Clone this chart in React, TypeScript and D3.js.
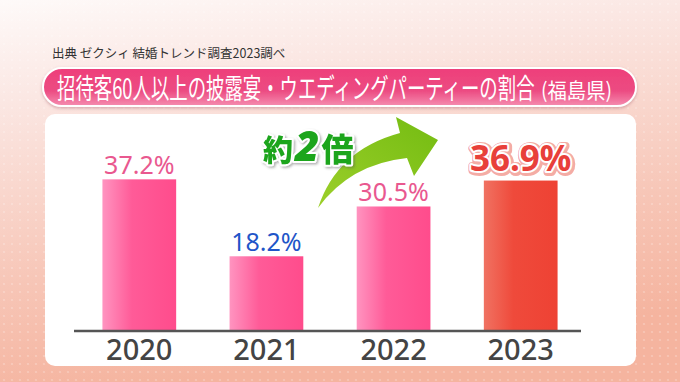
import React, { useLayoutEffect, useRef, useState } from "react";
import * as d3 from "d3";

const years = ["2020", "2021", "2022", "2023"];
const values = [37.2, 18.2, 30.5, 36.9];
const labels = ["37.2%", "18.2%", "30.5%", "36.9%"];
const labelKinds = ["pink", "blue", "pink", "highlight"];
const titleMain = "招待客60人以上の披露宴・ウエディングパーティーの割合";
const titleSub = "(福島県)";
const sourceText = "出典 ゼクシィ 結婚トレンド調査2023調べ";
const calloutPre = "約";
const calloutNum = "2";
const calloutPost = "倍";

const W = 680;
const H = 382;
const JP = "'Noto Sans CJK JP', 'Noto Sans', sans-serif";
const NUM = "'Noto Sans', Roboto, sans-serif";

export default function App() {
  const mainRef = useRef<SVGTextElement>(null);
  const subRef = useRef<SVGTextElement>(null);
  const [sxMain, setSxMain] = useState(0.66);
  const [sxSub, setSxSub] = useState(0.9);

  useLayoutEffect(() => {
    if (mainRef.current) {
      const w = mainRef.current.getBBox().width;
      if (w > 0) setSxMain(478 / w);
    }
    if (subRef.current) {
      const w = subRef.current.getBBox().width;
      if (w > 0) setSxSub(71 / w);
    }
  }, []);

  const x = d3.scaleBand<string>().domain(years).range([77, 583]).paddingInner(0.42).paddingOuter(0.2);
  const y = d3.scaleLinear().domain([0, 40]).range([330, 168]);
  const bw = x.bandwidth();

  const arrow = d3.path();
  arrow.moveTo(318, 208);
  arrow.quadraticCurveTo(337, 150, 400, 133);
  arrow.lineTo(396, 117);
  arrow.lineTo(438, 140);
  arrow.lineTo(414, 176);
  arrow.lineTo(407, 158);
  arrow.quadraticCurveTo(350, 164, 318, 208);
  arrow.closePath();

  return (
    <svg width={W} height={H} style={{ position: "fixed", left: 0, top: 0 }}>
      <defs>
        <linearGradient id="bg" x1="0" y1="0" x2="0.25" y2="1">
          <stop offset="0" stopColor="#fefaf9" />
          <stop offset="0.25" stopColor="#fbe7e3" />
          <stop offset="0.7" stopColor="#f7c6b7" />
          <stop offset="1" stopColor="#f5b49f" />
        </linearGradient>
        <pattern id="dots" width="8" height="8" patternUnits="userSpaceOnUse">
          <circle cx="4" cy="4" r="1.1" fill="#ffffff" opacity="0.25" />
        </pattern>
        <linearGradient id="pill" x1="0" y1="0" x2="0" y2="1">
          <stop offset="0" stopColor="#ee3f7a" />
          <stop offset="0.6" stopColor="#ec4b82" />
          <stop offset="1" stopColor="#f58db0" />
        </linearGradient>
        <linearGradient id="barPink" x1="0" y1="0" x2="1" y2="0">
          <stop offset="0" stopColor="#ff94c0" />
          <stop offset="0.4" stopColor="#ff5b98" />
          <stop offset="1" stopColor="#ff4c8c" />
        </linearGradient>
        <linearGradient id="barRed" x1="0" y1="0" x2="1" y2="0">
          <stop offset="0" stopColor="#f07262" />
          <stop offset="0.4" stopColor="#ef4a3b" />
          <stop offset="1" stopColor="#ee4234" />
        </linearGradient>
        <linearGradient id="arrowG" x1="0" y1="1" x2="1" y2="0">
          <stop offset="0" stopColor="#9ccf2a" />
          <stop offset="1" stopColor="#74bc12" />
        </linearGradient>
        <filter id="shadow" x="-10%" y="-30%" width="120%" height="160%">
          <feDropShadow dx="0" dy="1.5" stdDeviation="1.5" floodColor="#a05060" floodOpacity="0.4" />
        </filter>
        <filter id="tshadow" x="-10%" y="-30%" width="130%" height="160%">
          <feDropShadow dx="1.5" dy="1.5" stdDeviation="1" floodColor="#555" floodOpacity="0.45" />
        </filter>
      </defs>

      <rect x={0} y={0} width={W} height={H} fill="url(#bg)" />
      <rect x={0} y={0} width={W} height={H} fill="url(#dots)" />

      <text x={52} y={58} fontFamily={JP} fontSize={12.5} fill="#333">{sourceText}</text>

      <rect x={43} y={68} width={593} height={38} rx={19} fill="url(#pill)" stroke="#ffffff" strokeWidth={2} filter="url(#shadow)" />
      <g transform={`translate(57,99) scale(${sxMain},1)`}>
        <text ref={mainRef} x={0} y={0} fontFamily={JP} fontSize={28} fill="#ffffff">{titleMain}</text>
      </g>
      <g transform={`translate(541,98) scale(${sxSub},1)`}>
        <text ref={subRef} x={0} y={0} fontFamily={JP} fontSize={21} fill="#ffffff">{titleSub}</text>
      </g>

      <rect x={45} y={114} width={591} height={252} rx={10} fill="#ffffff" />

      {years.map((yr, i) => (
        <rect key={yr} x={x(yr)} y={y(values[i])} width={bw} height={y(0) - y(values[i])}
          fill={labelKinds[i] === "highlight" ? "url(#barRed)" : "url(#barPink)"} />
      ))}

      <line x1={74} x2={581} y1={y(0) + 1} y2={y(0) + 1} stroke="#555" strokeWidth={2.5} />

      {years.map((yr) => (
        <text key={yr} x={(x(yr) as number) + bw / 2} y={360} textAnchor="middle" fontFamily={NUM} fontSize={29} fontWeight={500} fill="#444">{yr}</text>
      ))}

      {years.map((yr, i) => {
        const cx = (x(yr) as number) + bw / 2;
        const ty = y(values[i]) - 5;
        if (labelKinds[i] === "highlight") {
          return (
            <g key={yr} fontFamily={NUM} fontSize={35} fontWeight={700} textAnchor="middle">
              <text x={cx + 1} y={ty - 4} fill="#f06050" stroke="#f08a80" strokeWidth={8} strokeLinejoin="round" opacity={0.7}>{labels[i]}</text>
              <text x={cx} y={ty - 5} fill="#e8403a" stroke="#ffffff" strokeWidth={4} strokeLinejoin="round" style={{ paintOrder: "stroke" }}>{labels[i]}</text>
            </g>
          );
        }
        return (
          <text key={yr} x={cx} y={ty} textAnchor="middle" fontFamily={NUM} fontSize={25}
            fill={labelKinds[i] === "blue" ? "#1f55c8" : "#e9588f"}>{labels[i]}</text>
        );
      })}

      <path d={arrow.toString()} fill="url(#arrowG)" />

      <g filter="url(#tshadow)">
        <text x={263} y={161} fontFamily={JP} fontWeight={900} fill="#1fa51f" stroke="#ffffff" strokeWidth={4} strokeLinejoin="round" style={{ paintOrder: "stroke" }}>
          <tspan fontSize={30}>{calloutPre}</tspan>
          <tspan fontSize={42} fontFamily={NUM} fontStyle="italic" fontWeight={900} dx={2}>{calloutNum}</tspan>
          <tspan fontSize={32} dx={2}>{calloutPost}</tspan>
        </text>
      </g>
    </svg>
  );
}
